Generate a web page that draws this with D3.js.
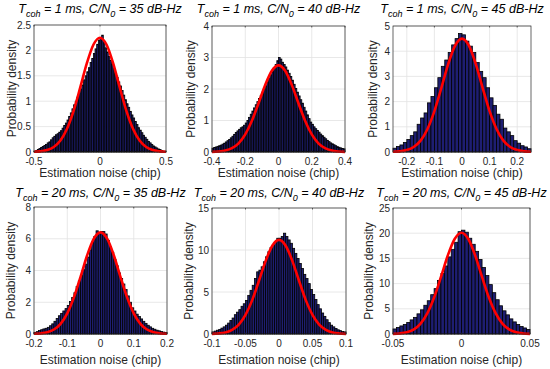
<!DOCTYPE html>
<html lang="en">
<head>
<meta charset="utf-8">
<title>Estimation noise histograms</title>
<style>
  body { margin: 0; background: #fff; }
  svg { display: block; font-family: "Liberation Sans", Arial, sans-serif; }
</style>
</head>
<body>
<svg id="chart" width="550" height="369"></svg>
<script src="https://cdn.jsdelivr.net/npm/d3@7/dist/d3.min.js"></script>
<script>
// ---- values ----
var cohTimes = ['1', '1', '1', '20', '20', '20']
var cn0Values = ['35', '40', '45', '35', '40', '45']

var xDomains = [[-0.5, 0.5], [-0.4, 0.4], [-0.25, 0.25], [-0.2, 0.2], [-0.1, 0.1], [-0.05, 0.05]]
var yDomains = [[0, 2.5], [0, 4], [0, 5], [0, 8], [0, 15], [0, 25]]

var xTicks1 = [-0.5, 0, 0.5]
var xTicks2 = [-0.4, -0.2, 0, 0.2, 0.4]
var xTicks3 = [-0.2, -0.1, 0, 0.1, 0.2]
var xTicks4 = [-0.2, -0.1, 0, 0.1, 0.2]
var xTicks5 = [-0.1, -0.05, 0, 0.05, 0.1]
var xTicks6 = [-0.05, 0, 0.05]

var yTicks1 = [0, 0.5, 1, 1.5, 2, 2.5]
var yTicks2 = [0, 1, 2, 3, 4]
var yTicks3 = [0, 1, 2, 3, 4, 5]
var yTicks4 = [0, 2, 4, 6, 8]
var yTicks5 = [0, 5, 10, 15]
var yTicks6 = [0, 5, 10, 15, 20, 25]

// histogram bar heights (probability density), left to right
var hist1 = [0.01, 0.03, 0.05, 0.07, 0.09, 0.11, 0.13, 0.15, 0.18, 0.2, 0.24, 0.28,
  0.31, 0.34, 0.36, 0.39, 0.42, 0.47, 0.52, 0.57, 0.63, 0.7, 0.77, 0.85,
  0.93, 1.0, 1.08, 1.16, 1.24, 1.32, 1.42, 1.5, 1.58, 1.66, 1.76, 1.84,
  1.94, 2.03, 2.12, 2.2, 2.25, 2.3, 2.15, 2.05, 1.97, 1.88, 1.8, 1.72,
  1.64, 1.55, 1.47, 1.38, 1.3, 1.21, 1.12, 1.03, 0.95, 0.88, 0.8, 0.73,
  0.67, 0.6, 0.54, 0.48, 0.43, 0.38, 0.33, 0.29, 0.25, 0.21, 0.18, 0.15,
  0.12, 0.1, 0.08, 0.06, 0.05, 0.03, 0.02, 0.01]
var hist2 = [0.12, 0.14, 0.16, 0.18, 0.2, 0.22, 0.25, 0.28, 0.32, 0.36,
  0.4, 0.45, 0.5, 0.56, 0.62, 0.67, 0.72, 0.77, 0.8, 0.85,
  0.92, 1.0, 1.1, 1.2, 1.3, 1.4, 1.5, 1.6, 1.7, 1.8,
  1.9, 2.0, 2.1, 2.22, 2.35, 2.45, 2.55, 2.65, 2.78, 2.9,
  3.0, 2.95, 2.85, 2.78, 2.7, 2.6, 2.5, 2.4, 2.28, 2.15,
  2.02, 1.9, 1.78, 1.66, 1.55, 1.42, 1.3, 1.18, 1.06, 0.95,
  0.88, 0.8, 0.74, 0.68, 0.63, 0.57, 0.52, 0.47, 0.42, 0.37,
  0.33, 0.29, 0.26, 0.23, 0.2, 0.17, 0.15, 0.13, 0.11, 0.1]
var hist3 = [0.15, 0.22, 0.28, 0.38, 0.5, 0.65, 0.8, 1.1, 1.35, 1.55,
  1.95, 2.2, 2.55, 2.95, 3.4, 3.65, 3.95, 4.25, 4.5, 4.7,
  4.65, 4.4, 4.2, 3.95, 3.55, 3.2, 2.95, 2.55, 2.15, 1.85,
  1.5, 1.3, 0.95, 0.8, 0.65, 0.45, 0.35, 0.25, 0.2, 0.13]
var hist4 = [0.1, 0.15, 0.22, 0.27, 0.32, 0.36, 0.42, 0.52, 0.64, 0.8,
  0.98, 1.15, 1.3, 1.45, 1.6, 1.8, 2.05, 2.3, 2.6, 3.0,
  3.35, 3.7, 4.05, 4.4, 4.85, 5.3, 5.8, 6.15, 6.5, 6.4,
  6.45, 6.45, 6.3, 5.9, 5.5, 5.15, 4.7, 4.3, 3.85, 3.5,
  3.15, 2.8, 2.4, 2.0, 1.65, 1.45, 1.25, 1.1, 0.95, 0.8,
  0.67, 0.55, 0.45, 0.36, 0.3, 0.24, 0.2, 0.16, 0.12, 0.1]
var hist5 = [0.25, 0.35, 0.45, 0.55, 0.7, 0.85, 1.05, 1.3, 1.6, 1.9,
  2.3, 2.6, 2.9, 3.3, 3.6, 4.0, 4.6, 5.2, 5.8, 6.6,
  7.4, 7.6, 8.0, 8.6, 9.2, 9.8, 10.3, 10.6, 11.0, 11.4,
  11.4, 11.6, 12.0, 11.6, 11.2, 10.8, 10.2, 9.6, 9.0, 8.4,
  7.8, 7.1, 6.6, 6.0, 5.3, 4.7, 4.1, 3.5, 3.0, 2.5,
  2.1, 1.7, 1.35, 1.05, 0.85, 0.65, 0.5, 0.4, 0.3, 0.25]
var hist6 = [1.0, 1.3, 1.6, 1.9, 2.3, 2.8, 3.3, 4.0, 4.8, 5.7,
  6.6, 7.8, 9.0, 10.6, 12.0, 13.5, 15.3, 16.8, 18.2, 20.3,
  20.6, 20.2, 19.0, 17.8, 16.4, 14.8, 13.2, 11.6, 9.8, 8.2,
  6.8, 5.6, 4.6, 3.8, 3.0, 2.4, 1.9, 1.5, 1.2, 0.9]

// red fitted density curves, sampled points
var curveX1 = [-0.5, -0.45, -0.4, -0.35, -0.3, -0.25, -0.2, -0.15, -0.1, -0.05, 0, 0.05, 0.1, 0.15, 0.2, 0.25, 0.3, 0.35, 0.4, 0.45, 0.5]
var curveY1 = [0.004, 0.013, 0.038, 0.099, 0.225, 0.457, 0.81, 1.267, 1.744, 2.111, 2.25, 2.111, 1.744, 1.267, 0.81, 0.457, 0.225, 0.099, 0.038, 0.013, 0.004]
var curveX2 = [-0.4, -0.36, -0.32, -0.28, -0.24, -0.2, -0.16, -0.12, -0.08, -0.04, 0, 0.04, 0.08, 0.12, 0.16, 0.2, 0.24, 0.28, 0.32, 0.36, 0.4]
var curveY2 = [0.005, 0.016, 0.046, 0.121, 0.275, 0.558, 0.99, 1.548, 2.131, 2.58, 2.75, 2.58, 2.131, 1.548, 0.99, 0.558, 0.275, 0.121, 0.046, 0.016, 0.005]
var curveX3 = [-0.25, -0.225, -0.2, -0.175, -0.15, -0.125, -0.1, -0.075, -0.05, -0.025, 0, 0.025, 0.05, 0.075, 0.1, 0.125, 0.15, 0.175, 0.2, 0.225, 0.25]
var curveY3 = [0.008, 0.026, 0.076, 0.198, 0.45, 0.914, 1.62, 2.534, 3.488, 4.221, 4.5, 4.221, 3.488, 2.534, 1.62, 0.914, 0.45, 0.198, 0.076, 0.026, 0.008]
var curveX4 = [-0.2, -0.18, -0.16, -0.14, -0.12, -0.1, -0.08, -0.06, -0.04, -0.02, 0, 0.02, 0.04, 0.06, 0.08, 0.1, 0.12, 0.14, 0.16, 0.18, 0.2]
var curveY4 = [0.011, 0.036, 0.108, 0.282, 0.64, 1.299, 2.304, 3.603, 4.96, 6.003, 6.4, 6.003, 4.96, 3.603, 2.304, 1.299, 0.64, 0.282, 0.108, 0.036, 0.011]
var curveX5 = [-0.1, -0.09, -0.08, -0.07, -0.06, -0.05, -0.04, -0.03, -0.02, -0.01, 0, 0.01, 0.02, 0.03, 0.04, 0.05, 0.06, 0.07, 0.08, 0.09, 0.1]
var curveY5 = [0.019, 0.064, 0.189, 0.493, 1.12, 2.274, 4.032, 6.306, 8.68, 10.506, 11.2, 10.506, 8.68, 6.306, 4.032, 2.274, 1.12, 0.493, 0.189, 0.064, 0.019]
var curveX6 = [-0.05, -0.045, -0.04, -0.035, -0.03, -0.025, -0.02, -0.015, -0.01, -0.005, 0, 0.005, 0.01, 0.015, 0.02, 0.025, 0.03, 0.035, 0.04, 0.045, 0.05]
var curveY6 = [0.034, 0.115, 0.34, 0.884, 2.01, 4.08, 7.236, 11.316, 15.578, 18.854, 20.1, 18.854, 15.578, 11.316, 7.236, 4.08, 2.01, 0.884, 0.34, 0.115, 0.034]

// ---- layout ----
var frames = [
  { left: 34, right: 166, top: 25, bottom: 152 },
  { left: 212, right: 345, top: 26, bottom: 152 },
  { left: 393, right: 531, top: 26, bottom: 152 },
  { left: 34, right: 167, top: 207, bottom: 334 },
  { left: 212, right: 346, top: 208, bottom: 334 },
  { left: 393, right: 530, top: 208, bottom: 334 }
]
var rowText = [
  { title: 13, tick: 165, xlabel: 177 },
  { title: 196.5, tick: 347, xlabel: 364 }
]
var ylabelOffset = [18.5, 17, 16, 19, 19, 20]

var panels = [
  { hist: hist1, cx: curveX1, cy: curveY1, xt: xTicks1, yt: yTicks1 },
  { hist: hist2, cx: curveX2, cy: curveY2, xt: xTicks2, yt: yTicks2 },
  { hist: hist3, cx: curveX3, cy: curveY3, xt: xTicks3, yt: yTicks3 },
  { hist: hist4, cx: curveX4, cy: curveY4, xt: xTicks4, yt: yTicks4 },
  { hist: hist5, cx: curveX5, cy: curveY5, xt: xTicks5, yt: yTicks5 },
  { hist: hist6, cx: curveX6, cy: curveY6, xt: xTicks6, yt: yTicks6 }
]

var axisColor = '#262626'
var svg = d3.select('#chart')

panels.forEach(function(p, i) {
  var f = frames[i]
  var rt = rowText[i < 3 ? 0 : 1]
  var xd = xDomains[i]
  var x = d3.scaleLinear().domain(xd).range([f.left, f.right])
  var y = d3.scaleLinear().domain(yDomains[i]).range([f.bottom, f.top])
  var g = svg.append('g')

  // grid
  g.selectAll('.gx').data(p.xt).enter().append('line')
    .attr('x1', function(d) { return x(d) }).attr('x2', function(d) { return x(d) })
    .attr('y1', f.top).attr('y2', f.bottom)
    .attr('stroke', '#e2e2e2').attr('stroke-width', 0.8)
  g.selectAll('.gy').data(p.yt).enter().append('line')
    .attr('x1', f.left).attr('x2', f.right)
    .attr('y1', function(d) { return y(d) }).attr('y2', function(d) { return y(d) })
    .attr('stroke', '#e2e2e2').attr('stroke-width', 0.8)

  // histogram bars
  var bw = (xd[1] - xd[0]) / p.hist.length
  g.selectAll('.bar').data(p.hist).enter().append('rect')
    .attr('x', function(d, k) { return x(xd[0] + k * bw) })
    .attr('width', function(d, k) { return x(xd[0] + (k + 1) * bw) - x(xd[0] + k * bw) })
    .attr('y', function(d) { return y(d) })
    .attr('height', function(d) { return y(0) - y(d) })
    .attr('fill', '#1e1e72')
    .attr('stroke', '#000').attr('stroke-width', 0.8)

  // red density curve
  var line = d3.line()
    .x(function(d, k) { return x(p.cx[k]) })
    .y(function(d) { return y(d) })
    .curve(d3.curveMonotoneX)
  g.append('path').datum(p.cy)
    .attr('d', line)
    .attr('fill', 'none').attr('stroke', '#ff0000').attr('stroke-width', 2.6)
    .attr('stroke-linejoin', 'round')

  // box + inward ticks
  g.append('rect')
    .attr('x', f.left).attr('y', f.top)
    .attr('width', f.right - f.left).attr('height', f.bottom - f.top)
    .attr('fill', 'none').attr('stroke', axisColor).attr('stroke-width', 0.7)
  p.xt.forEach(function(t) {
    g.append('line').attr('x1', x(t)).attr('x2', x(t)).attr('y1', f.bottom).attr('y2', f.bottom - 1.5)
      .attr('stroke', axisColor).attr('stroke-width', 0.7)
    g.append('line').attr('x1', x(t)).attr('x2', x(t)).attr('y1', f.top).attr('y2', f.top + 1.5)
      .attr('stroke', axisColor).attr('stroke-width', 0.7)
  })

  // tick labels
  g.selectAll('.xl').data(p.xt).enter().append('text')
    .attr('x', function(d) { return x(d) }).attr('y', rt.tick)
    .attr('text-anchor', 'middle').attr('font-size', 10).attr('fill', axisColor)
    .text(function(d) { return String(d) })
  g.selectAll('.yl').data(p.yt).enter().append('text')
    .attr('x', f.left - 3).attr('y', function(d) { return y(d) })
    .attr('dy', '0.35em')
    .attr('text-anchor', 'end').attr('font-size', 10).attr('fill', axisColor)
    .text(function(d) { return String(d) })

  // axis labels
  g.append('text')
    .attr('x', (f.left + f.right) / 2).attr('y', rt.xlabel)
    .attr('text-anchor', 'middle').attr('font-size', 12).attr('fill', axisColor)
    .text('Estimation noise (chip)')
  g.append('text')
    .attr('transform', 'translate(' + (f.left - ylabelOffset[i]) + ',' + ((f.top + f.bottom) / 2) + ') rotate(-90)')
    .attr('text-anchor', 'middle').attr('font-size', 12).attr('fill', axisColor)
    .text('Probability density')

  // title with subscripts
  var t = g.append('text')
    .attr('x', (f.left + f.right) / 2).attr('y', rt.title)
    .attr('text-anchor', 'middle').attr('font-size', 12.5).attr('font-style', 'italic').attr('fill', '#000')
  t.append('tspan').text('T')
  t.append('tspan').attr('dy', 4).attr('font-size', 9).text('coh')
  t.append('tspan').attr('dy', -4).text(' = ' + cohTimes[i] + ' ms, C/N')
  t.append('tspan').attr('dy', 4).attr('font-size', 9).text('0')
  t.append('tspan').attr('dy', -4).text(' = ' + cn0Values[i] + ' dB-Hz')
})
</script>
</body>
</html>
